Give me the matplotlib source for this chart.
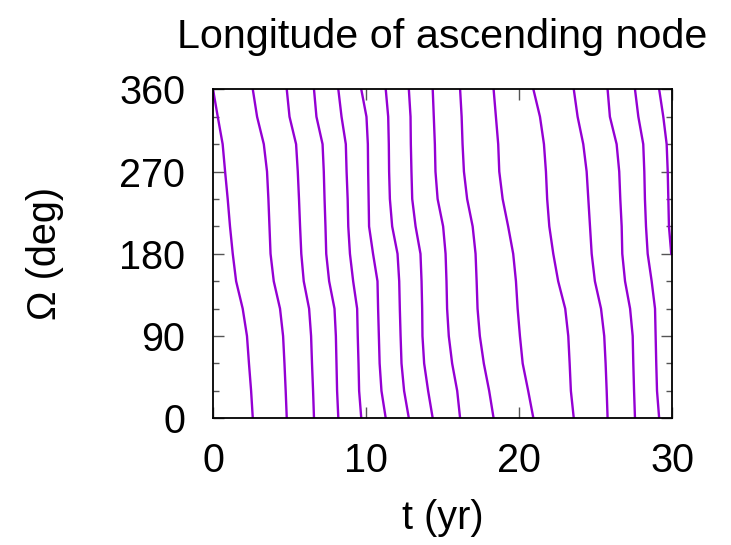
import numpy as np
import matplotlib
matplotlib.use('Agg')
import matplotlib.pyplot as plt
from matplotlib.ticker import MultipleLocator

plt.rcParams['font.family'] = ['Liberation Sans', 'DejaVu Sans']

# Omega levels (deg) at which each descending branch was read
omega_levels = [360, 330, 300, 270, 240, 210, 180, 150, 120, 90, 60, 30, 0]

# time (yr) at which each branch crosses the levels above
seg_times = [
    [0.00, 0.31, 0.63, 0.79, 0.96, 1.11, 1.29, 1.51, 1.94, 2.22, 2.35, 2.49, 2.60],
    [2.60, 2.88, 3.32, 3.53, 3.62, 3.69, 3.76, 3.97, 4.38, 4.58, 4.67, 4.75, 4.82],
    [4.82, 5.00, 5.43, 5.54, 5.62, 5.69, 5.77, 5.93, 6.28, 6.41, 6.47, 6.54, 6.60],
    [6.60, 6.76, 7.16, 7.24, 7.29, 7.35, 7.40, 7.59, 7.94, 8.03, 8.07, 8.11, 8.19],
    [8.19, 8.40, 8.68, 8.73, 8.80, 8.84, 8.95, 9.16, 9.42, 9.46, 9.51, 9.55, 9.69],
    [9.69, 10.03, 10.12, 10.14, 10.17, 10.20, 10.46, 10.75, 10.79, 10.84, 10.89, 11.01, 11.29],
    [11.29, 11.45, 11.49, 11.51, 11.56, 11.71, 12.06, 12.17, 12.21, 12.26, 12.32, 12.49, 12.80],
    [12.80, 12.91, 12.93, 12.97, 13.02, 13.24, 13.56, 13.63, 13.67, 13.69, 13.80, 14.06, 14.36],
    [14.36, 14.43, 14.50, 14.54, 14.68, 15.04, 15.20, 15.26, 15.30, 15.41, 15.63, 15.96, 16.15],
    [16.15, 16.25, 16.31, 16.40, 16.61, 16.97, 17.16, 17.23, 17.29, 17.44, 17.70, 18.05, 18.34],
    [18.34, 18.49, 18.64, 18.71, 18.93, 19.29, 19.62, 19.80, 19.91, 20.06, 20.24, 20.60, 20.94],
    [20.94, 21.37, 21.63, 21.76, 21.84, 21.98, 22.24, 22.56, 23.02, 23.22, 23.31, 23.39, 23.58],
    [23.58, 23.83, 24.20, 24.42, 24.53, 24.64, 24.75, 24.96, 25.36, 25.57, 25.66, 25.73, 25.79],
    [25.79, 25.94, 26.38, 26.55, 26.62, 26.71, 26.75, 26.93, 27.26, 27.43, 27.47, 27.52, 27.58],
    [27.58, 27.80, 28.12, 28.19, 28.23, 28.30, 28.41, 28.67, 28.89, 28.93, 28.97, 29.02, 29.16],
    [29.16, 29.43, 29.65, 29.72, 29.76, 29.80, 29.95],
]

fig = plt.figure(figsize=(7.31, 5.45), dpi=100)
ax = fig.add_axes([0.2914, 0.2325, 0.6279, 0.6036])

for times in seg_times:
    ax.plot(times, omega_levels[:len(times)], color='#9400D3', lw=1.7,
            solid_joinstyle='round')

ax.set_xlim(0, 30)
ax.set_ylim(0, 360)
ax.xaxis.set_major_locator(MultipleLocator(10))
ax.yaxis.set_major_locator(MultipleLocator(90))
ax.yaxis.set_minor_locator(MultipleLocator(30))
ax.tick_params(which='both', direction='in', top=True, right=True,
               labelsize=28.5, color='#555555', width=1)
ax.tick_params(which='major', length=8)
ax.tick_params(axis='y', which='major', pad=20)
ax.tick_params(axis='x', which='major', pad=17)
ax.tick_params(which='minor', length=4.3)
for s in ax.spines.values():
    s.set_linewidth(1.3)

ax.set_title('Longitude of ascending node', fontsize=29.7, pad=30)
ax.set_xlabel('t (yr)', fontsize=28.5)
ax.set_ylabel('Ω (deg)', fontsize=28.5)
ax.xaxis.set_label_coords(0.5, -0.245)
ax.yaxis.set_label_coords(-0.325, 0.5)

fig.savefig('out.png', dpi=100)
